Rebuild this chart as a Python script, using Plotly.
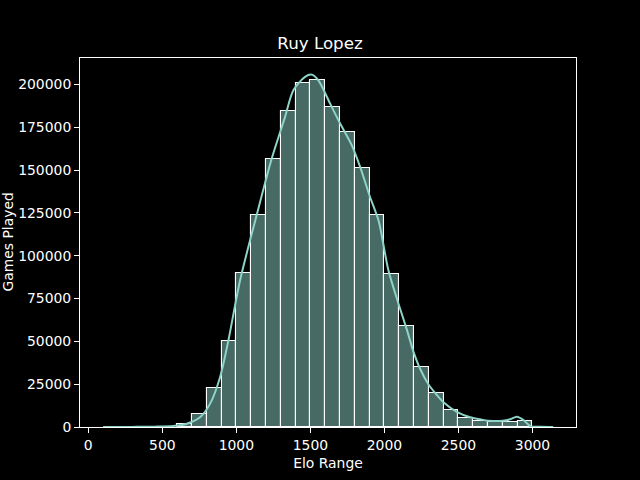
import plotly.graph_objects as go

# Histogram bins (left edge of each 100-Elo bin) and games counts
bin_starts = [600, 700, 800, 900, 1000, 1100, 1200, 1300, 1400, 1500, 1600, 1700,
              1800, 1900, 2000, 2100, 2200, 2300, 2400, 2500, 2600, 2700, 2800, 2900]
games = [1900, 7700, 22500, 50500, 90000, 124000, 156800, 184800, 201000, 202900, 186600, 172000,
         151500, 123600, 89500, 59000, 34800, 19600, 10200, 5000, 3600, 2800, 3100, 3500]
bin_width = 100

# KDE curve
kde_x = [100, 300, 450, 575, 665, 755, 822, 890, 946, 1025, 1138, 1239, 1329, 1385, 1464,
         1509, 1554, 1633, 1701, 1780, 1836, 1903, 1960, 2027, 2095, 2151, 2196, 2241, 2297,
         2354, 2395, 2489, 2579, 2647, 2700, 2800, 2850, 2895, 2940, 2985, 3050, 3140]
kde_y = [0, 60, 200, 600, 1900, 5700, 13500, 29100, 50500, 85600, 124000, 156800, 181100, 196700, 204500,
         205800, 202500, 188900, 177200, 164500, 151900, 134300, 120700, 91500, 72000, 57000, 44000, 34000, 25000,
         18700, 14800, 8900, 5700, 4500, 3700, 3600, 4500, 6000, 4000, 500, 100, 0]

x_ticks = [0, 500, 1000, 1500, 2000, 2500, 3000]
y_ticks = [0, 25000, 50000, 75000, 100000, 125000, 150000, 175000, 200000]

accent = "#8dd3c7"
font = "DejaVu Sans"

fig = go.Figure()
fig.add_trace(go.Bar(
    x=bin_starts, y=games, width=bin_width, offset=0,
    marker=dict(color="rgba(141,211,199,0.5)", line=dict(color="white", width=1.1)),
    showlegend=False,
))
fig.add_trace(go.Scatter(
    x=kde_x, y=kde_y, mode="lines",
    line=dict(color=accent, width=2, shape="spline", smoothing=0.8),
    showlegend=False,
))

axis_common = dict(
    showline=True, mirror=True, linecolor="white", linewidth=1,
    ticks="outside", ticklen=5, tickwidth=1, tickcolor="white",
    showgrid=False, zeroline=False,
    tickfont=dict(family=font, size=13.9, color="white"),
)

fig.update_layout(
    width=640, height=480,
    paper_bgcolor="black", plot_bgcolor="black",
    margin=dict(l=80, r=64, t=58, b=53),
    bargap=0,
    title=dict(text="Ruy Lopez", x=0.5, xanchor="center", y=1 - 43 / 480, yanchor="middle",
               font=dict(family=font, size=16.7, color="white")),
    xaxis=dict(range=[-56, 3294], tickvals=x_ticks,
               title=dict(text="Elo Range", font=dict(family=font, size=13.9, color="white"), standoff=6),
               **axis_common),
    yaxis=dict(range=[0, 215500], tickvals=y_ticks, tickformat="d", **axis_common),
    annotations=[dict(
        text="Games Played", x=-0.147, y=0.5, xref="paper", yref="paper",
        textangle=-90, showarrow=False, xanchor="center", yanchor="middle",
        font=dict(family=font, size=13.9, color="white"),
    )],
)

fig.write_html(
    "out.html",
    config={"displayModeBar": False},
    post_script="document.body.style.margin='0';document.body.style.background='black';",
)
